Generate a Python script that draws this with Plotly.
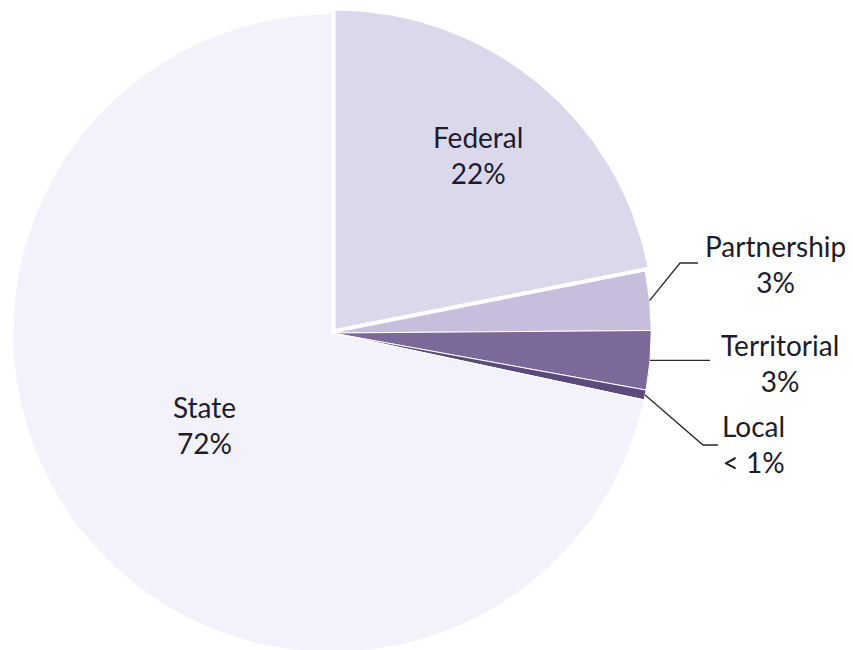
import math
import plotly.graph_objects as go

# ---- data ----
categories = ["Federal", "Partnership", "Territorial", "Local", "State"]
values = [22, 3, 3, 0.5, 72]
value_labels = ["22%", "3%", "3%", "< 1%", "72%"]
colors = ["#DCD8EB", "#C6BEDC", "#7B6A99", "#5B4A7C", "#F3F1FA"]
pulls = [0.015, 0, 0, 0, 0]

W, H = 853, 650
CX, CY = 324, 325  # pie centre in px
SPAN = min(2 * CX, H)
R = (SPAN / 2) / (1 + max(pulls))

fig = go.Figure(go.Pie(
    labels=categories,
    values=values,
    sort=False,
    direction="clockwise",
    rotation=0,
    pull=pulls,
    marker=dict(colors=colors, line=dict(color="#FFFFFF", width=1.0)),
    textinfo="none",
    hoverinfo="label+percent",
    showlegend=False,
    domain=dict(x=[(CX - SPAN / 2) / W, (CX + SPAN / 2) / W], y=[0, 1]),
))

total = sum(values)
cum = 0
mids = []
for v in values:
    mids.append((cum + v / 2) / total * 2 * math.pi)
    cum += v


def px(x, y):
    return x / W, 1 - y / H


def edge(i, k=1.0):
    a = mids[i]
    return CX + k * R * math.sin(a), CY - k * R * math.cos(a)


font = dict(family="Lato, 'Open Sans', sans-serif", size=28, color="#1C1C2C")

# label text positions (px) and leader-line bends
label_pos = {0: (470, 147), 4: (196, 417)}
outside = {
    1: dict(bend=(672, 255), end=(690, 255), text=(767, 256)),
    2: dict(bend=None, end=(702, None), text=(772, 355)),
    3: dict(bend=(695, 437), end=(710, 437), text=(745, 436)),
}

for i, (x, y) in label_pos.items():
    ax, ay = px(x, y)
    fig.add_annotation(x=ax, y=ay, xref="paper", yref="paper",
                       xanchor="center", yanchor="middle",
                       text=f"{categories[i]}<br>{value_labels[i]}",
                       showarrow=False, font=font, align="center")

for i, o in outside.items():
    sx, sy = edge(i)
    pts = [(sx, sy)]
    if o["bend"]:
        pts.append(o["bend"])
    ex, ey = o["end"]
    if ey is None:
        ey = sy
    pts.append((ex, ey))
    path = "M " + " L ".join(f"{px(a, b)[0]:.5f},{px(a, b)[1]:.5f}" for a, b in pts)
    fig.add_shape(type="path", path=path, xref="paper", yref="paper",
                  line=dict(color="#2A2A2A", width=1.3))
    tx, ty = px(*o["text"])
    fig.add_annotation(x=tx, y=ty, xref="paper", yref="paper",
                       xanchor="center", yanchor="middle",
                       text=f"{categories[i]}<br>{value_labels[i]}",
                       showarrow=False, font=font, align="center")

fig.update_layout(
    width=W, height=H,
    margin=dict(l=0, r=0, t=0, b=0),
    paper_bgcolor="white",
    plot_bgcolor="white",
)

fig.write_html("out.html")
